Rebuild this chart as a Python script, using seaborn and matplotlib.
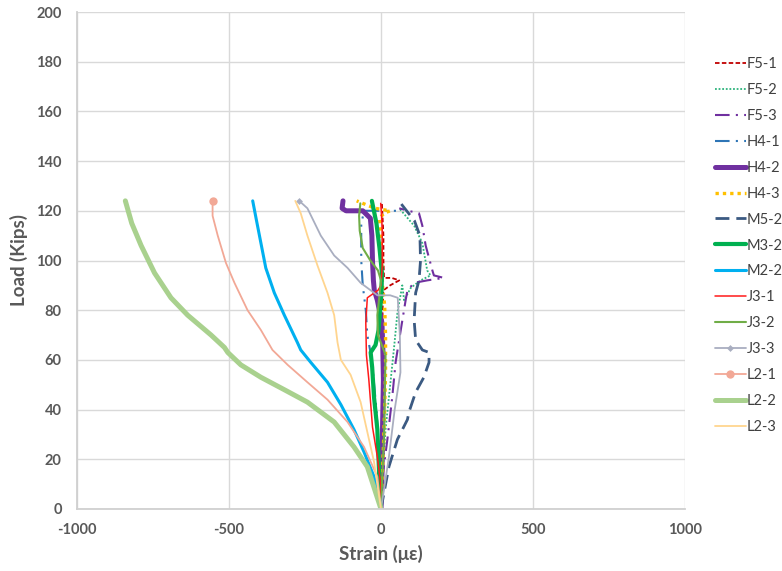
import matplotlib
matplotlib.use("Agg")
import matplotlib.pyplot as plt
from matplotlib.legend_handler import HandlerLine2D
import numpy as np
import pandas as pd
import seaborn as sns

# ---------------- data (strain in micro-strain, load in kips) ----------------
series_names = ["F5-1", "F5-2", "F5-3", "H4-1", "H4-2", "H4-3", "M5-2", "M3-2",
                "M2-2", "J3-1", "J3-2", "J3-3", "L2-1", "L2-2", "L2-3"]

F5_1_strain = [0, 5, 10, 8, 5, 8, 30, 60, 35, 10, 8, 8, 5, 3]
F5_1_load = [0, 20, 40, 60, 80, 88, 90, 92, 93, 93, 100, 110, 118, 123]

F5_2_strain = [0, 4, 15, 32, 43, 54, 70, 76, 98, 130, 163, 152, 136, 109, 81, 60]
F5_2_load = [0, 12, 32, 52, 65, 79, 90, 84, 89, 92, 94, 96, 107, 114, 118, 121]

F5_3_strain = [0, 4, 21, 37, 48, 65, 81, 87, 109, 152, 207, 174, 169, 147, 136, 125, 90, 60]
F5_3_load = [0, 12, 28, 45, 59, 72, 84, 88, 91, 92, 93, 94, 96, 106, 114, 119, 120, 121]

H4_1_strain = [0, -5, -15, -30, -45, -50, -60, -65, -65, -55, 0, 30, 65]
H4_1_load = [0, 20, 40, 60, 70, 80, 90, 100, 115, 120, 120, 120, 120]

H4_2_strain = [0, 3, 5, 8, 6, 3, -12, -22, -25, -28, -30, -35, -60, -115, -128, -125]
H4_2_load = [0, 12, 32, 52, 65, 75, 84, 88, 92, 100, 110, 117, 120, 120, 121, 124]

H4_3_strain = [0, 3, 8, 12, 15, 15, 12, 5, 2, 0, -5, 10, 30, -20, -60, -80]
H4_3_load = [0, 10, 25, 40, 55, 70, 82, 90, 100, 110, 117, 119, 120, 121, 123, 124]

M5_2_strain = [0, 26, 54, 87, 92, 114, 141, 158, 158, 136, 114, 109, 114, 125, 130, 128, 110, 65]
M5_2_load = [0, 17, 28, 36, 39, 47, 53, 59, 63, 64, 68, 76, 87, 92, 100, 110, 116, 123]

M3_2_strain = [0, -5, -7, -12, -23, -29, -34, -18, -8, -3, 2, 3, -5, -15, -25, -30]
M3_2_load = [0, 10, 17, 32, 45, 57, 63, 66, 72, 80, 88, 95, 105, 115, 121, 124]

M2_2_strain = [0, -23, -56, -89, -132, -176, -231, -264, -275, -318, -351, -379, -395, -411, -422]
M2_2_load = [0, 13, 23, 32, 42, 51, 59, 64, 67, 78, 87, 97, 107, 117, 124]

J3_1_strain = [0, -1, -12, -28, -40, -48, -50, -45, -10, 0, 4, 4, 2, -1]
J3_1_load = [0, 10, 21, 33, 52, 62, 75, 85, 88, 90, 98, 112, 118, 123]

J3_2_strain = [0, 5, 10, 12, 15, -10, -12, -5, 0, -10, -35, -60, -70, -72, -68]
J3_2_load = [0, 15, 30, 45, 62, 70, 78, 86, 92, 96, 100, 105, 112, 118, 123]

J3_3_strain = [0, 25, 45, 64, 62, 55, 30, -12, -34, -67, -110, -154, -198, -242, -269]
J3_3_load = [0, 20, 40, 55, 70, 85, 86, 86, 88, 91, 97, 102, 110, 121, 124]

L2_1_strain = [0, -12, -56, -110, -176, -242, -307, -357, -395, -439, -482, -510, -537, -554, -554]
L2_1_load = [0, 13, 25, 35, 44, 51, 58, 64, 72, 80, 91, 99, 110, 118, 124]

L2_2_strain = [0, -45, -89, -154, -242, -318, -395, -461, -504, -515, -559, -636, -691, -745, -789, -820, -841]
L2_2_load = [0, 17, 25, 35, 43, 48, 53, 58, 63, 65, 70, 78, 85, 95, 106, 115, 124]

L2_3_strain = [0, -23, -45, -67, -100, -132, -143, -154, -176, -209, -242, -264, -282]
L2_3_load = [0, 19, 31, 43, 54, 60, 67, 78, 87, 98, 110, 119, 124]

x_ticks = [-1000, -500, 0, 500, 1000]
y_ticks = list(range(0, 201, 20))

strain_lists = [F5_1_strain, F5_2_strain, F5_3_strain, H4_1_strain, H4_2_strain,
                H4_3_strain, M5_2_strain, M3_2_strain, M2_2_strain, J3_1_strain,
                J3_2_strain, J3_3_strain, L2_1_strain, L2_2_strain, L2_3_strain]
load_lists = [F5_1_load, F5_2_load, F5_3_load, H4_1_load, H4_2_load, H4_3_load,
              M5_2_load, M3_2_load, M2_2_load, J3_1_load, J3_2_load, J3_3_load,
              L2_1_load, L2_2_load, L2_3_load]

# ---------------- styles ----------------
styles = {
    "F5-1": dict(color="#C00000", lw=1.3, ls=(0, (2.5, 1.3))),
    "F5-2": dict(color="#2DB37C", lw=1.3, ls=(0, (1, 1))),
    "F5-3": dict(color="#7030A0", lw=1.5, ls=(0, (7, 3, 1, 3))),
    "H4-1": dict(color="#2E75B6", lw=1.5, ls=(0, (7, 3, 1, 3, 1, 3))),
    "H4-2": dict(color="#7030A0", lw=3.6, ls="-"),
    "H4-3": dict(color="#FFC000", lw=2.4, ls=(0, (1, 1.2))),
    "M5-2": dict(color="#3B5A82", lw=2.0, ls=(0, (5, 2.5))),
    "M3-2": dict(color="#00B050", lw=3.0, ls="-"),
    "M2-2": dict(color="#00B0F0", lw=2.2, ls="-"),
    "J3-1": dict(color="#FF1A1A", lw=1.1, ls="-"),
    "J3-2": dict(color="#70AD47", lw=1.5, ls="-"),
    "J3-3": dict(color="#A9AEC0", lw=1.3, ls="-", marker="D", ms=3.5),
    "L2-1": dict(color="#F2A896", lw=1.3, ls="-", marker="o", ms=6),
    "L2-2": dict(color="#A9D18E", lw=3.6, ls="-"),
    "L2-3": dict(color="#FFD58F", lw=1.3, ls="-"),
}

# ---------------- figure ----------------
sns.set_theme(style="white")
plt.rcParams["font.family"] = ["Lato", "DejaVu Sans"]
plt.rcParams["axes.unicode_minus"] = False

fig = plt.figure(figsize=(7.82, 5.71), dpi=100)
ax = fig.add_axes([77 / 782, 62 / 571, (685 - 77) / 782, (509 - 12) / 571])

handles = []
for name, xs, ys in zip(series_names, strain_lists, load_lists):
    st = styles[name]
    df = pd.DataFrame({"strain": xs, "load": ys})
    kw = dict(color=st["color"], linewidth=st["lw"], linestyle=st["ls"])
    if "marker" in st:
        kw.update(marker=st["marker"], markersize=st["ms"],
                  markevery=[len(xs) - 1], markeredgewidth=0)
    sns.lineplot(data=df, x="strain", y="load", sort=False, estimator=None,
                 ax=ax, label=name, legend=False, **kw)
    handles.append(ax.lines[-1])

ax.set_xlim(-1000, 1000)
ax.set_ylim(0, 200)
ax.set_xticks(x_ticks)
ax.set_yticks(y_ticks)
ax.grid(True, color="#D9D9D9", linewidth=1.0)
ax.set_axisbelow(True)
for s in ["top", "right"]:
    ax.spines[s].set_visible(False)
for s in ["left", "bottom"]:
    ax.spines[s].set_color("#D0D0D0")
    ax.spines[s].set_linewidth(1.3)
ax.tick_params(axis="both", length=0, labelsize=10.5, labelcolor="#595959")
ax.tick_params(axis="y", pad=11)
ax.tick_params(axis="x", pad=10)
for lab in ax.get_xticklabels() + ax.get_yticklabels():
    lab.set_fontweight("bold")

ax.set_xlabel("Strain (\u03bc\u03b5)", fontsize=13.5, fontweight="bold",
              color="#595959", labelpad=6)
ax.set_ylabel("Load (Kips)", fontsize=13.5, fontweight="bold",
              color="#595959", labelpad=6)


class EndMarkerHandler(HandlerLine2D):
    def get_xdata(self, legend, xdescent, ydescent, width, height, fontsize):
        xdata, _ = super().get_xdata(legend, xdescent, ydescent, width, height, fontsize)
        return xdata, np.array([-xdescent + width])


handler_map = {h: EndMarkerHandler(numpoints=1) for h in handles}
leg = fig.legend(handles=handles, labels=series_names, loc="center left",
                 bbox_to_anchor=(0.905, 0.57), frameon=False, fontsize=10.5,
                 handlelength=2.1, handletextpad=0.1, labelspacing=0.82,
                 borderpad=0, handler_map=handler_map)
for t in leg.get_texts():
    t.set_color("#404040")

fig.savefig("out.png", dpi=100)
